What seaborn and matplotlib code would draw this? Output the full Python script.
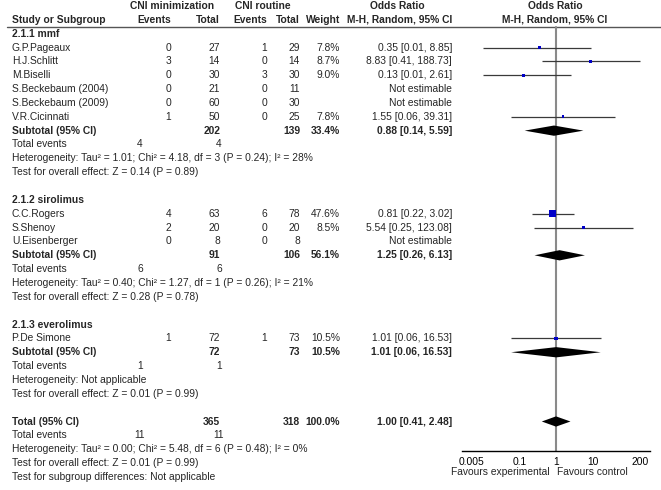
import numpy as np
import matplotlib
matplotlib.use("Agg")
import matplotlib.pyplot as plt
import seaborn as sns
import pandas as pd

# study level data
study_names = ["G.P.Pageaux", "H.J.Schlitt", "M.Biselli", "S.Beckebaum (2004)",
               "S.Beckebaum (2009)", "V.R.Cicinnati", "C.C.Rogers", "S.Shenoy",
               "U.Eisenberger", "P.De Simone"]
study_group = [0, 0, 0, 0, 0, 0, 1, 1, 1, 2]
exp_events = [0, 3, 0, 0, 0, 1, 4, 2, 0, 1]
exp_total = [27, 14, 30, 21, 60, 50, 63, 20, 8, 72]
ctl_events = [1, 0, 3, 0, 0, 0, 6, 0, 0, 1]
ctl_total = [29, 14, 30, 11, 30, 25, 78, 20, 8, 73]
weights = [7.8, 8.7, 9.0, np.nan, np.nan, 7.8, 47.6, 8.5, np.nan, 10.5]
odds = [0.35, 8.83, 0.13, np.nan, np.nan, 1.55, 0.81, 5.54, np.nan, 1.01]
ci_low = [0.01, 0.41, 0.01, np.nan, np.nan, 0.06, 0.22, 0.25, np.nan, 0.06]
ci_high = [8.85, 188.73, 2.61, np.nan, np.nan, 39.31, 3.02, 123.08, np.nan, 16.53]

# subgroup summaries
sub_names = ["2.1.1 mmf", "2.1.2 sirolimus", "2.1.3 everolimus"]
sub_exp_total = [202, 91, 72]
sub_ctl_total = [139, 106, 73]
sub_exp_events = [4, 6, 1]
sub_ctl_events = [4, 6, 1]
sub_weight = [33.4, 56.1, 10.5]
sub_odds = [0.88, 1.25, 1.01]
sub_low = [0.14, 0.26, 0.06]
sub_high = [5.59, 6.13, 16.53]
sub_het = ["Heterogeneity: Tau² = 1.01; Chi² = 4.18, df = 3 (P = 0.24); I² = 28%",
           "Heterogeneity: Tau² = 0.40; Chi² = 1.27, df = 1 (P = 0.26); I² = 21%",
           "Heterogeneity: Not applicable"]
sub_z = ["Test for overall effect: Z = 0.14 (P = 0.89)",
         "Test for overall effect: Z = 0.28 (P = 0.78)",
         "Test for overall effect: Z = 0.01 (P = 0.99)"]

# overall
tot_exp_total, tot_ctl_total = 365, 318
tot_exp_events, tot_ctl_events = 11, 11
tot_weight = 100.0
tot_odds, tot_low, tot_high = 1.00, 0.41, 2.48
tot_het = "Heterogeneity: Tau² = 0.00; Chi² = 5.48, df = 6 (P = 0.48); I² = 0%"
tot_z = "Test for overall effect: Z = 0.01 (P = 0.99)"
tot_sub = "Test for subgroup differences: Not applicable"

axis_ticks = [0.005, 0.1, 1, 10, 200]
axis_labels = ["0.005", "0.1", "1", "10", "200"]

sns.set_style("white")
plt.rcParams['font.family'] = ['Liberation Sans', 'DejaVu Sans']
FS = 7.4

W, H = 661, 490
ROW0, ROWH = 6.0, 13.85


def px2row(py):
    return (py - ROW0) / ROWH


fig = plt.figure(figsize=(W / 100, H / 100), dpi=100)

# full-figure axes for the table text (x in pixels, y in rows)
tb = fig.add_axes([0, 0, 1, 1])
tb.set_xlim(0, W)
tb.set_ylim(px2row(H), px2row(0))
tb.axis('off')

# forest axes
AX_L, AX_R, AX_B = 462, 650, 451
ax = fig.add_axes([AX_L / W, (H - AX_B) / H, (AX_R - AX_L) / W, AX_B / H])
ax.patch.set_alpha(0)
ax.set_xscale('log')
ax.set_xlim(10 ** -2.56, 10 ** 2.56)
ax.set_ylim(px2row(AX_B), px2row(0))

# column positions (pixels)
X_NAME = 12
X_EV1, X_TOT1, X_EV2, X_TOT2, X_W, X_OR = 171, 220, 267, 300, 340, 452
X_TEV1, X_TEV2 = 140, 219


def txt(x, row, s, ha='left', bold=False):
    tb.text(x, row, s, ha=ha, va='center', fontsize=FS,
            fontweight='bold' if bold else 'normal')


def fmt_or(o, lo, hi):
    return f"{o:.2f} [{lo:.2f}, {hi:.2f}]"


# header
txt(172, 0, "CNI minimization", ha='center', bold=True)
txt(263, 0, "CNI routine", ha='center', bold=True)
txt(397, 0, "Odds Ratio", ha='center', bold=True)
txt(555, 0, "Odds Ratio", ha='center', bold=True)
txt(X_NAME, 1, "Study or Subgroup", bold=True)
txt(X_EV1, 1, "Events", ha='right', bold=True)
txt(X_TOT1, 1, "Total", ha='right', bold=True)
txt(X_EV2, 1, "Events", ha='right', bold=True)
txt(X_TOT2, 1, "Total", ha='right', bold=True)
txt(X_W, 1, "Weight", ha='right', bold=True)
txt(X_OR, 1, "M-H, Random, 95% CI", ha='right', bold=True)
txt(555, 1, "M-H, Random, 95% CI", ha='center', bold=True)
tb.plot([7, W], [px2row(27)] * 2, color='#555555', lw=1)

# build rows
study_rows = [0] * len(study_names)
sub_rows = []
r = 2
for g, gname in enumerate(sub_names):
    txt(X_NAME, r, gname, bold=True)
    r += 1
    for i in range(len(study_names)):
        if study_group[i] != g:
            continue
        study_rows[i] = r
        txt(X_NAME, r, study_names[i])
        txt(X_EV1, r, str(exp_events[i]), ha='right')
        txt(X_TOT1, r, str(exp_total[i]), ha='right')
        txt(X_EV2, r, str(ctl_events[i]), ha='right')
        txt(X_TOT2, r, str(ctl_total[i]), ha='right')
        if np.isnan(odds[i]):
            txt(X_OR, r, "Not estimable", ha='right')
        else:
            txt(X_W, r, f"{weights[i]:.1f}%", ha='right')
            txt(X_OR, r, fmt_or(odds[i], ci_low[i], ci_high[i]), ha='right')
        r += 1
    sub_rows.append(r)
    txt(X_NAME, r, "Subtotal (95% CI)", bold=True)
    txt(X_TOT1, r, str(sub_exp_total[g]), ha='right', bold=True)
    txt(X_TOT2, r, str(sub_ctl_total[g]), ha='right', bold=True)
    txt(X_W, r, f"{sub_weight[g]:.1f}%", ha='right', bold=True)
    txt(X_OR, r, fmt_or(sub_odds[g], sub_low[g], sub_high[g]), ha='right', bold=True)
    txt(X_NAME, r + 1, "Total events")
    txt(X_TEV1, r + 1, str(sub_exp_events[g]), ha='center')
    txt(X_TEV2, r + 1, str(sub_ctl_events[g]), ha='center')
    txt(X_NAME, r + 2, sub_het[g])
    txt(X_NAME, r + 3, sub_z[g])
    r += 5

tot_row = r
txt(X_NAME, r, "Total (95% CI)", bold=True)
txt(X_TOT1, r, str(tot_exp_total), ha='right', bold=True)
txt(X_TOT2, r, str(tot_ctl_total), ha='right', bold=True)
txt(X_W, r, f"{tot_weight:.1f}%", ha='right', bold=True)
txt(X_OR, r, fmt_or(tot_odds, tot_low, tot_high), ha='right', bold=True)
txt(X_NAME, r + 1, "Total events")
txt(X_TEV1, r + 1, str(tot_exp_events), ha='center')
txt(X_TEV2, r + 1, str(tot_ctl_events), ha='center')
txt(X_NAME, r + 2, tot_het)
txt(X_NAME, r + 3, tot_z)
txt(X_NAME, r + 4, tot_sub)

# forest marks
ax.plot([1, 1], [px2row(27), px2row(AX_B)], color='#8a8a8a', lw=1.5, zorder=1)

df = pd.DataFrame({"row": study_rows, "odds": odds, "lo": ci_low,
                   "hi": ci_high, "weight": weights}).dropna()
ax.hlines(df["row"], df["lo"], df["hi"], color='#3a3a3a', lw=0.9, zorder=2)
sns.scatterplot(data=df, x="odds", y="row", size="weight", sizes=(0, 26),
                size_norm=(0, 47.6), marker='s', color='#0000c8',
                edgecolor='none', legend=False, ax=ax, zorder=3)

DH = 0.37
for rr, o, lo, hi in zip(sub_rows + [tot_row], sub_odds + [tot_odds],
                         sub_low + [tot_low], sub_high + [tot_high]):
    ax.fill([lo, o, hi, o], [rr, rr - DH, rr, rr + DH], color='black', lw=0, zorder=4)

for s in ['left', 'right', 'top']:
    ax.spines[s].set_visible(False)
ax.spines['bottom'].set_color('black')
ax.spines['bottom'].set_linewidth(1)
ax.set_yticks([])
ax.set_xticks(axis_ticks)
ax.set_xticklabels(axis_labels)
ax.minorticks_off()
ax.tick_params(axis='x', direction='inout', length=6, width=0.8, labelsize=FS,
               pad=1.5, colors='black')
ax.set_xlabel("")
ax.set_ylabel("")

tb.text(550, px2row(472), "Favours experimental", ha='right', va='center', fontsize=FS)
tb.text(557, px2row(472), "Favours control", ha='left', va='center', fontsize=FS)

fig.savefig("out.png", dpi=100)
